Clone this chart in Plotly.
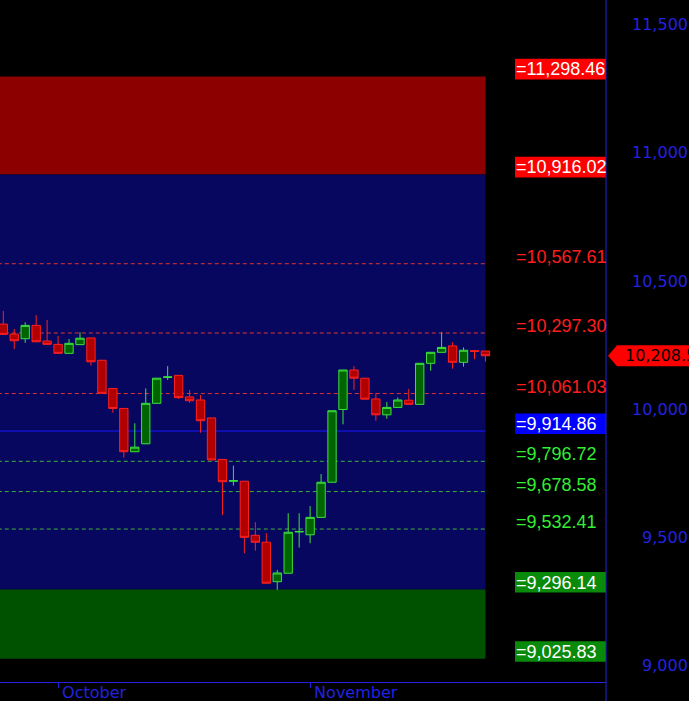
import plotly.graph_objects as go

# ---------------- data ----------------
dates = [
    "2008-09-24", "2008-09-25", "2008-09-26", "2008-09-29", "2008-09-30",
    "2008-10-01", "2008-10-02", "2008-10-03", "2008-10-06", "2008-10-07",
    "2008-10-08", "2008-10-09", "2008-10-10", "2008-10-13", "2008-10-14",
    "2008-10-15", "2008-10-16", "2008-10-17", "2008-10-20", "2008-10-21",
    "2008-10-22", "2008-10-23", "2008-10-24", "2008-10-27", "2008-10-28",
    "2008-10-29", "2008-10-30", "2008-10-31", "2008-11-03", "2008-11-04",
    "2008-11-05", "2008-11-06", "2008-11-07", "2008-11-10", "2008-11-11",
    "2008-11-12", "2008-11-13", "2008-11-14", "2008-11-17", "2008-11-18",
    "2008-11-19", "2008-11-20", "2008-11-21", "2008-11-24", "2008-11-25",
]
open_ = [10332, 10293, 10275, 10327, 10266, 10253, 10218, 10252, 10278, 10191,
         10081, 10003, 9834, 9865, 10023, 10124, 10132, 10048, 10036, 9966,
         9804, 9719, 9719, 9508, 9481, 9327, 9360, 9521, 9510, 9578,
         9715, 9999, 10153, 10121, 10040, 9978, 10007, 10035, 10019, 10179,
         10222, 10247, 10183, 10228, 10227]
high = [10383, 10313, 10339, 10367, 10348, 10286, 10274, 10300, 10278, 10191,
        10081, 10003, 9945, 10081, 10121, 10168, 10132, 10075, 10055, 9966,
        9804, 9780, 9719, 9559, 9516, 9373, 9594, 9594, 9622, 9747,
        9994, 10153, 10168, 10121, 10062, 10028, 10046, 10079, 10179, 10222,
        10300, 10261, 10241, 10228, 10227]
low = [10289, 10235, 10259, 10263, 10253, 10218, 10218, 10251, 10170, 10062,
       9986, 9811, 9834, 9865, 10023, 10114, 10040, 10025, 9908, 9802,
       9587, 9702, 9438, 9448, 9321, 9295, 9360, 9460, 9477, 9578,
       9715, 9941, 10075, 10039, 9955, 9963, 10007, 10019, 10019, 10150,
       10222, 10158, 10166, 10195, 10185]
close = [10292, 10267, 10327, 10263, 10253, 10218, 10257, 10277, 10185, 10062,
         10003, 9834, 9852, 10023, 10121, 10126, 10045, 10033, 9955, 9802,
         9717, 9721, 9500, 9481, 9321, 9361, 9520, 9523, 9578, 9715,
         9994, 10153, 10121, 10039, 9978, 10007, 10036, 10019, 10179, 10222,
         10241, 10183, 10230, 10226, 10208.5]

levels = [11298.46, 10916.02, 10567.61, 10297.30, 10061.03, 9914.86,
          9796.72, 9678.58, 9532.41, 9296.14, 9025.83]

y_tick_values = [9000, 9500, 10000, 10500, 11000, 11500]
y_tick_labels = ["9,000", "9,500", "10,000", "10,500", "11,000", "11,500"]

month_ticks = ["2008-10-01", "2008-11-03"]
month_labels = ["October", "November"]

# ---------------- styles ----------------
BG = "#000000"
AXIS_BLUE = "#2222e0"
BAND_RED = "#8c0000"
BAND_BLUE = "#07075f"
BAND_GREEN = "#005200"
RED_BRIGHT = "#ff0000"
RED_TEXT = "#ff1c1c"
GREEN_TEXT = "#33ee33"
BOX_GREEN = "#0a8a0a"
BOX_BLUE = "#0000ff"
LABEL_FONT = "Liberation Sans, Arial, sans-serif"
AXIS_FONT = "DejaVu Sans, Verdana, sans-serif"

# level style: (kind, colour)  kind: 'box' = white text on coloured box, 'text' = coloured text
level_style = [
    ("box", RED_BRIGHT), ("box", RED_BRIGHT),
    ("text", RED_TEXT), ("text", RED_TEXT), ("text", RED_TEXT),
    ("box", BOX_BLUE),
    ("text", GREEN_TEXT), ("text", GREEN_TEXT), ("text", GREEN_TEXT),
    ("box", BOX_GREEN), ("box", BOX_GREEN),
]
DASH_RED = "#e03434"
DASH_GREEN = "#3cb43c"
line_style = {2: (DASH_RED, "4px,3px"), 3: (DASH_RED, "4px,3px"), 4: (DASH_RED, "4px,3px"),
              5: ("#1818ff", "solid"),
              6: (DASH_GREEN, "4px,3px"), 7: (DASH_GREEN, "4px,3px"), 8: (DASH_GREEN, "4px,3px")}

fig = go.Figure()

fig.add_trace(go.Candlestick(
    x=dates, open=open_, high=high, low=low, close=close,
    increasing=dict(line=dict(color="#3ee03e", width=1), fillcolor="#006400"),
    decreasing=dict(line=dict(color="#ff2020", width=1), fillcolor="#b00000"),
    whiskerwidth=0, showlegend=False, hoverinfo="skip",
))

shapes = []
x_end = dates[-1]
# bands
for (lo, hi, col) in [(levels[1], levels[0], BAND_RED),
                      (levels[9], levels[1], BAND_BLUE),
                      (levels[10], levels[9], BAND_GREEN)]:
    shapes.append(dict(type="rect", xref="x", yref="y", x0=-0.5, x1=x_end,
                       y0=lo, y1=hi, fillcolor=col, line=dict(width=0), layer="below"))
# level lines
for idx, (col, dash) in line_style.items():
    shapes.append(dict(type="line", xref="x", yref="y", x0=-0.5, x1=x_end,
                       y0=levels[idx], y1=levels[idx],
                       line=dict(color=col, width=1, dash=dash), layer="below"))

annotations = []
for v, (kind, col) in zip(levels, level_style):
    if kind == "box":
        shapes.append(dict(type="rect", xref="paper", yref="y", ysizemode="pixel",
                           yanchor=v, x0=515 / 606, x1=1.0, y0=-3, y1=17.6,
                           fillcolor=col, line=dict(width=0), layer="above"))
        tcol = "#ffffff"
    else:
        tcol = col
    annotations.append(dict(xref="paper", yref="y", x=515 / 606, y=v, xanchor="left",
                            yanchor="middle", yshift=7, text="={:,.2f}".format(v),
                            showarrow=False, borderpad=0,
                            font=dict(family=LABEL_FONT, size=18, color=tcol)))

# right price axis labels
for tv, tl in zip(y_tick_values, y_tick_labels):
    annotations.append(dict(xref="paper", yref="y", x=689 / 606, y=tv, xanchor="right",
                            yanchor="middle", text=tl, showarrow=False, borderpad=0,
                            font=dict(family=AXIS_FONT, size=16, color=AXIS_BLUE)))

# current price marker
last = close[-1]
shapes.append(dict(type="path", xref="paper", yref="y", xsizemode="pixel", ysizemode="pixel",
                   xanchor=1.0, yanchor=last,
                   path="M 2,0 L 11,10.5 L 100,10.5 L 100,-10.5 L 11,-10.5 Z",
                   fillcolor=RED_BRIGHT, line=dict(width=0), layer="above"))
annotations.append(dict(xref="paper", yref="y", x=624 / 606, y=last, xanchor="left",
                        yanchor="middle", text="{:,.1f}".format(last), showarrow=False,
                        borderpad=0, font=dict(family=AXIS_FONT, size=16, color="#000000")))

# right axis line extending to the bottom of the image
shapes.append(dict(type="line", xref="paper", yref="paper", x0=1.0, x1=1.0, y0=-0.04, y1=1.0,
                   line=dict(color=AXIS_BLUE, width=1), layer="above"))

fig.update_layout(
    width=689, height=701,
    margin=dict(l=0, r=83, t=0, b=19, autoexpand=False),
    paper_bgcolor=BG, plot_bgcolor=BG,
    shapes=shapes, annotations=annotations,
    boxgap=0.24, boxgroupgap=0,
    showlegend=False,
    xaxis=dict(type="category", range=[-0.3, 55.0], showgrid=False, zeroline=False,
               automargin=False,
               rangeslider=dict(visible=False),
               tickmode="array", tickvals=month_ticks, ticktext=month_labels,
               ticks="outside", ticklen=5, tickcolor=AXIS_BLUE, tickwidth=1,
               ticklabelposition="outside right", ticklabelstandoff=-4, ticklabelshift=3,
               tickfont=dict(family=AXIS_FONT, size=16, color=AXIS_BLUE),
               showline=True, linecolor=AXIS_BLUE, linewidth=1, fixedrange=True),
    yaxis=dict(range=[8935.6, 11596.6], showgrid=False, zeroline=False, automargin=False,
               showticklabels=False, ticks="", showline=False, fixedrange=True),
)

fig.write_html("out.html",
               config={"displayModeBar": False, "staticPlot": True},
               post_script="document.body.style.margin='0px';"
                           "document.body.style.overflow='hidden';"
                           "document.body.style.background='#000';")
